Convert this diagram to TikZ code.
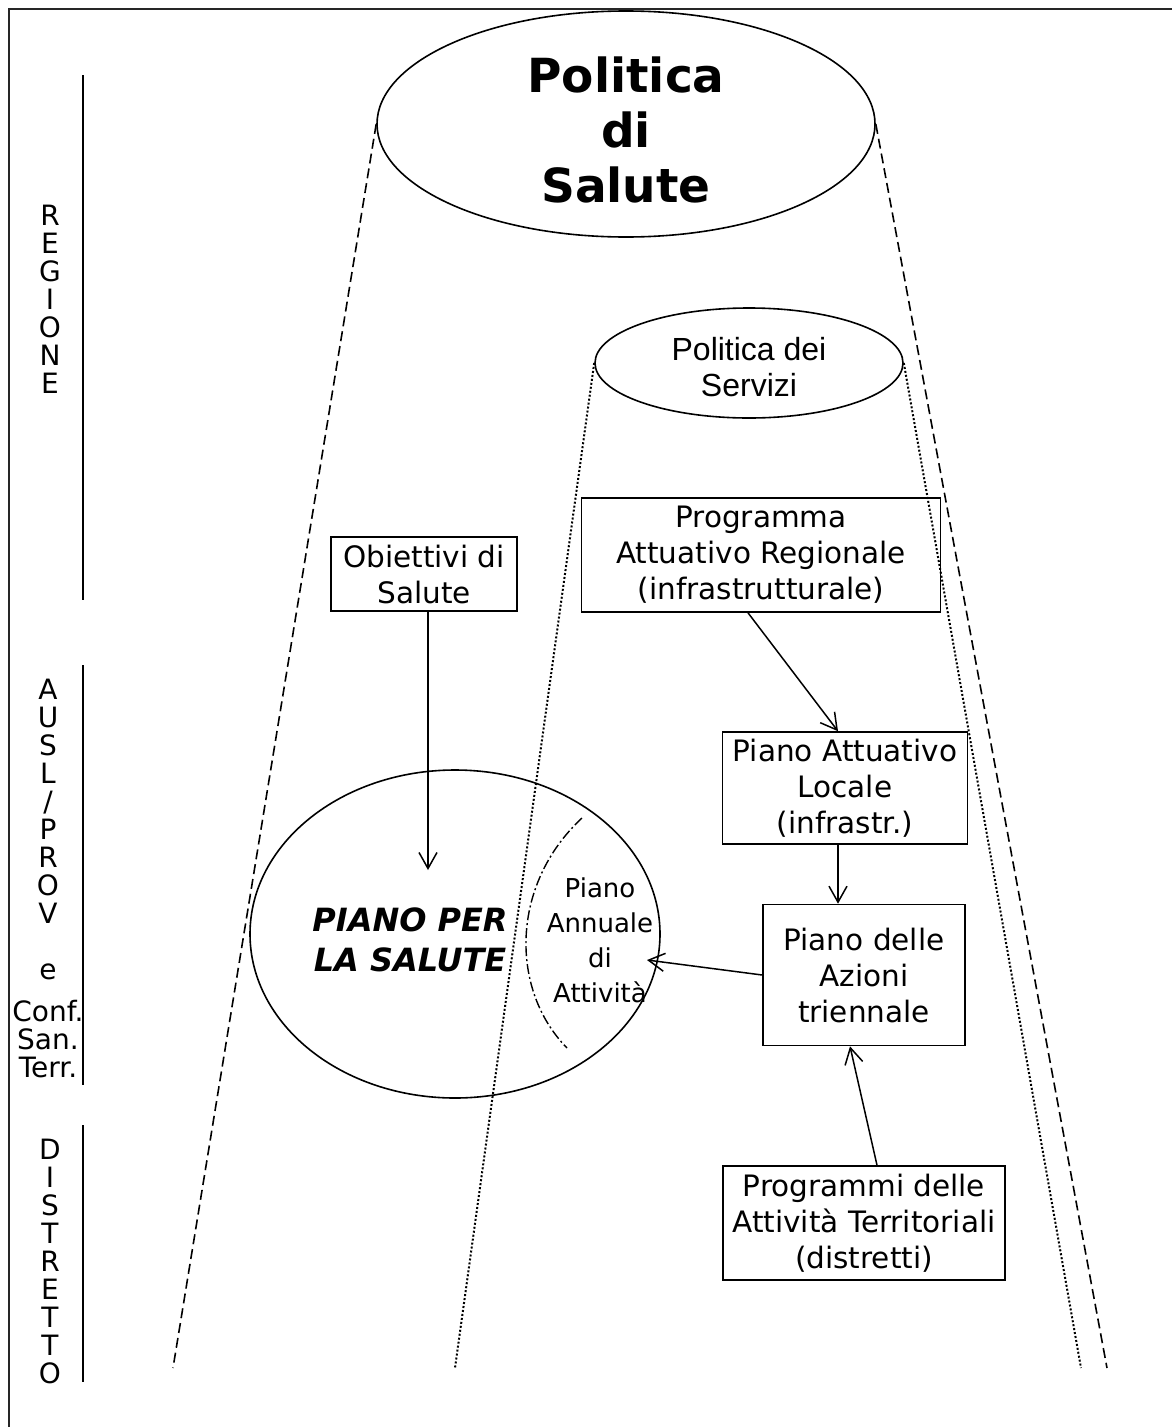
\documentclass[tikz,border=0pt]{standalone}
\usepackage{fontspec}
\setmainfont{DejaVu Sans}
\newfontfamily\servizifont{Liberation Sans}
\usetikzlibrary{positioning}
\usetikzlibrary{shapes.geometric}
\usetikzlibrary{arrows.meta}

\begin{document}
\begin{tikzpicture}[%
x=1pt, y=-1pt,
livello/.style={align=center,inner sep=0pt,font=\fontsize{28}{28}\selectfont},
riquadro/.style={draw,line width=1.6pt,align=center,inner sep=0pt,font=\fontsize{29.5}{36}\selectfont},
ovale/.style={draw,ellipse,line width=1.6pt,inner sep=0pt},
freccia/.style={-{Straight Barb[length=16pt,width=18pt]},line width=1.5pt},
tratteggio/.style={dash pattern=on 10pt off 5pt,line width=1.6pt},
puntini/.style={dash pattern=on 2pt off 2pt,line width=2pt},
tratto punto/.style={dash pattern=on 10pt off 3pt on 2pt off 3pt,line width=1.4pt},
divisore/.style={line width=1.6pt}]
\useasboundingbox (0,0) rectangle (1172,1427);
\draw [line width=2.2pt,black!85] (9,1427) -- (9,9) -- (1172,9);

% livelli
\node [livello] (regione)   at (50,299)  {R\\E\\G\\I\\O\\N\\E};
\node [livello] (ausl)      at (48,878)  {A\\U\\S\\L\\/\\P\\R\\O\\V\\[28pt]e\\[14pt]Conf.\\San.\\Terr.};
\node [livello] (distretto) at (50,1261) {D\\I\\S\\T\\R\\E\\T\\T\\O};
\draw [divisore] (83,75)   -- (83,600);
\draw [divisore] (83,665)  -- (83,1085);
\draw [divisore] (83,1125) -- (83,1382);

% ovali
\node [ovale,minimum width=498pt,minimum height=226pt] (salute) at (626,124) {};
\node [inner sep=0pt,align=center,font=\fontsize{47}{55}\selectfont\bfseries] (titolo) at (626,130) {Politica\\di\\Salute};
\node [ovale,minimum width=308pt,minimum height=110pt] (servizi) at (749,363) {};
\node [inner sep=0pt,align=center,font=\servizifont\fontsize{32}{36}\selectfont] (serviziTesto) at (749,367) {Politica dei\\Servizi};
\node [ovale,minimum width=410pt,minimum height=328pt] (piano) at (455,934) {};
\node [inner sep=0pt,align=center,font=\fontsize{32}{40}\selectfont\bfseries\itshape] (pianoTesto) at (410,940) {PIANO PER\\LA SALUTE};
\node [inner sep=0pt,align=center,font=\fontsize{26}{35}\selectfont] (annuale) at (600,940) {Piano\\Annuale\\di\\Attivit\`a};
\draw [tratto punto] (582,818) .. controls (510,885) and (510,990) .. (567,1048);

% coni
\coordinate (saluteSx) at (173,1368);
\coordinate (saluteDx) at (1107,1368);
\coordinate (serviziSx) at (455,1368);
\coordinate (serviziDx) at (1081,1368);
\draw [tratteggio] (salute.west)  -- (saluteSx);
\draw [tratteggio] (salute.east)  -- (saluteDx);
\draw [puntini]    (servizi.west) -- (serviziSx);
\draw [puntini]    (servizi.east) -- (serviziDx);

% riquadri
\node [riquadro,minimum width=186pt,minimum height=74pt]  (obiettivi)  at (424,574)  {Obiettivi di\\Salute};
\node [riquadro,minimum width=359pt,minimum height=114pt] (programma)  at (761,555)  {Programma\\Attuativo Regionale\\(infrastrutturale)};
\node [riquadro,minimum width=245pt,minimum height=112pt] (pal)        at (845,788)  {Piano Attuativo\\Locale\\(infrastr.)};
\node [riquadro,minimum width=202pt,minimum height=141pt] (azioni)     at (864,975)  {Piano delle\\Azioni\\triennale};
\node [riquadro,minimum width=282pt,minimum height=114pt] (programmi)  at (864,1223) {Programmi delle\\Attivit\`a Territoriali\\(distretti)};

% frecce
\coordinate (pianoPunta) at (428,870);
\coordinate (annualePunta) at (647,960);
\draw [freccia] ([xshift=4pt]obiettivi.south) -- (pianoPunta);
\draw [freccia] ([xshift=-13pt]programma.south) -- ([xshift=-7pt]pal.north);
\draw [freccia] ([xshift=-7pt]pal.south) -- ([xshift=-7pt]pal.south |- azioni.north);
\draw [freccia] ([xshift=13pt]programmi.north) -- ([xshift=-14pt]azioni.south);
\draw [freccia] (azioni.west) -- (annualePunta);
\end{tikzpicture}
\end{document}
